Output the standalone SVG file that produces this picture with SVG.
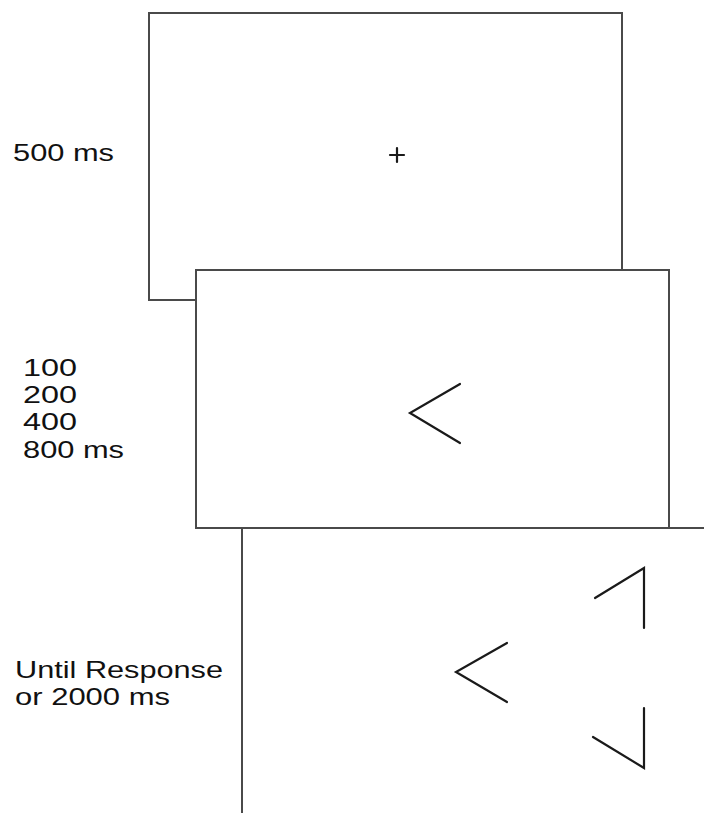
<svg xmlns="http://www.w3.org/2000/svg" width="704" height="813" viewBox="0 0 704 813">
<style>
.frame{fill:#fff;stroke:#4a4a4a;stroke-width:2}
.mark{fill:none;stroke:#1a1a1a;stroke-width:2.2;stroke-linecap:round;stroke-linejoin:miter}
.lbl{font-family:"Liberation Sans",Arial,sans-serif;font-size:24px;fill:#111}
</style>
<rect width="704" height="813" fill="#fff"/>
<g id="frame1">
<rect class="frame" x="149" y="13" width="473" height="287"/>
<path class="mark" d="M397 148v14M390 155h14" stroke-width="1.6"/>
</g>
<g id="frame2">
<rect class="frame" x="196" y="270" width="473" height="258"/>
<polyline class="mark" points="460,384 410,413 460,443"/>
</g>
<g id="frame3">
<rect class="frame" x="242" y="528" width="480" height="300"/>
<polyline class="mark" points="507,643 456,672 507,702"/>
<polyline class="mark" points="595,598 644,568 644,628"/>
<polyline class="mark" points="644,708 644,768 593,737"/>
</g>
<g id="labels">
<text class="lbl" x="13" y="161" textLength="101" lengthAdjust="spacingAndGlyphs">500 ms</text>
<text class="lbl" x="23" y="376" textLength="54" lengthAdjust="spacingAndGlyphs">100</text>
<text class="lbl" x="23" y="403" textLength="54" lengthAdjust="spacingAndGlyphs">200</text>
<text class="lbl" x="23" y="430" textLength="54" lengthAdjust="spacingAndGlyphs">400</text>
<text class="lbl" x="23" y="458" textLength="101" lengthAdjust="spacingAndGlyphs">800 ms</text>
<text class="lbl" x="15" y="678" textLength="208" lengthAdjust="spacingAndGlyphs">Until Response</text>
<text class="lbl" x="15" y="705" textLength="155" lengthAdjust="spacingAndGlyphs">or 2000 ms</text>
</g>
</svg>
